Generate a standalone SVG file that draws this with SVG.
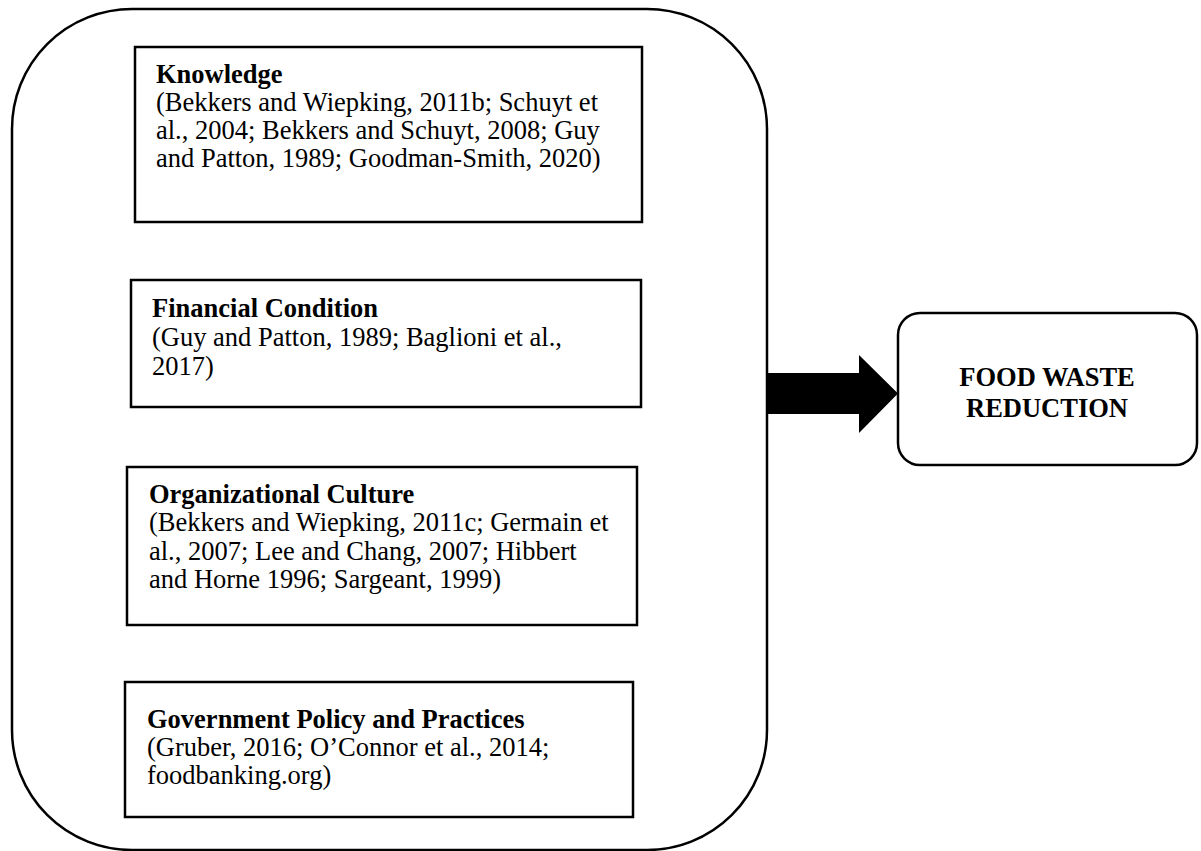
<svg xmlns="http://www.w3.org/2000/svg" width="1201" height="851" viewBox="0 0 1201 851">
<style>
.box{fill:#fff;stroke:#000;stroke-width:2.5}
.t{font-family:"Liberation Serif","Times New Roman",serif;font-size:26.5px;fill:#000}
.b{font-weight:bold}
</style>
<rect x="0" y="0" width="1201" height="851" fill="#fff"/>
<g id="container">
<rect x="12" y="9" width="755" height="841" rx="120" ry="120" fill="none" stroke="#000" stroke-width="2.5"/>
</g>
<g id="knowledge">
<rect class="box" x="135" y="47" width="507" height="175"/>
<text class="t b" x="156" y="82.5">Knowledge</text>
<text class="t" x="156" y="111">(Bekkers and Wiepking, 2011b; Schuyt et</text>
<text class="t" x="156" y="139">al., 2004; Bekkers and Schuyt, 2008; Guy</text>
<text class="t" x="156" y="167">and Patton, 1989; Goodman-Smith, 2020)</text>
</g>
<g id="financial">
<rect class="box" x="131" y="280" width="510" height="127"/>
<text class="t b" x="152" y="316.5">Financial Condition</text>
<text class="t" x="152" y="346">(Guy and Patton, 1989; Baglioni et al.,</text>
<text class="t" x="152" y="375">2017)</text>
</g>
<g id="organizational">
<rect class="box" x="127" y="467" width="510" height="158"/>
<text class="t b" x="149" y="502.5">Organizational Culture</text>
<text class="t" x="149" y="531">(Bekkers and Wiepking, 2011c; Germain et</text>
<text class="t" x="149" y="559.5">al., 2007; Lee and Chang, 2007; Hibbert</text>
<text class="t" x="149" y="588">and Horne 1996; Sargeant, 1999)</text>
</g>
<g id="government">
<rect class="box" x="125" y="682" width="508" height="135"/>
<text class="t b" x="147" y="727.5">Government Policy and Practices</text>
<text class="t" x="147" y="756">(Gruber, 2016; O’Connor et al., 2014;</text>
<text class="t" x="147" y="784">foodbanking.org)</text>
</g>
<g id="connectors">
<polygon points="767,373 859,373 859,355 898,393.5 859,433 859,414 767,414" fill="#000"/>
</g>
<g id="food-waste-reduction">
<rect class="box" x="898" y="313" width="299" height="152" rx="22" ry="22"/>
<text class="t b" x="1047" y="386" text-anchor="middle">FOOD WASTE</text>
<text class="t b" x="1047" y="417" text-anchor="middle">REDUCTION</text>
</g>
</svg>
